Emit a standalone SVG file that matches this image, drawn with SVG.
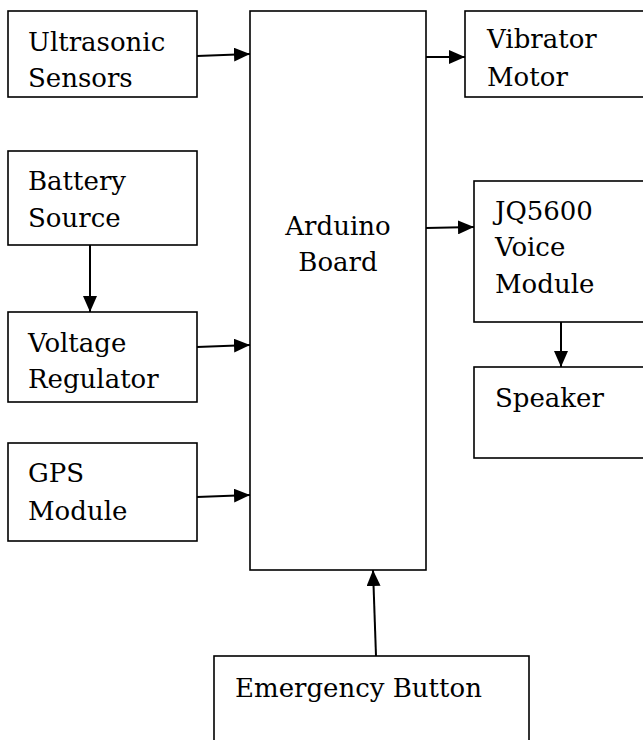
<svg xmlns="http://www.w3.org/2000/svg" width="643" height="740" viewBox="0 0 643 740">
<style>
.box{fill:#fff;stroke:#000;stroke-width:1.6}
.t{font-family:"DejaVu Serif",serif;font-size:26px;fill:#000}
.c{stroke:#000;stroke-width:2;fill:none}
</style>
<defs>
<marker id="ah" viewBox="0 0 16 14" refX="16" refY="7" markerWidth="16" markerHeight="14" markerUnits="userSpaceOnUse" orient="auto">
<path d="M0,0 L16,7 L0,14 Z" fill="#000"/>
</marker>
</defs>
<rect width="643" height="740" fill="#fff"/>
<g id="arduino"><rect class="box" x="250" y="11" width="176" height="559"/>
<text class="t" x="338" y="235" text-anchor="middle">Arduino</text>
<text class="t" x="338" y="271" text-anchor="middle">Board</text></g>
<g id="ultrasonic"><rect class="box" x="8" y="11" width="189" height="86"/>
<text class="t" x="28" y="51">Ultrasonic</text><text class="t" x="28" y="87">Sensors</text></g>
<g id="battery"><rect class="box" x="8" y="151" width="189" height="94"/>
<text class="t" x="28" y="190">Battery</text><text class="t" x="28" y="227">Source</text></g>
<g id="regulator"><rect class="box" x="8" y="312" width="189" height="90"/>
<text class="t" x="28" y="352">Voltage</text><text class="t" x="28" y="388">Regulator</text></g>
<g id="gps"><rect class="box" x="8" y="443" width="189" height="98"/>
<text class="t" x="28" y="482">GPS</text><text class="t" x="28" y="520">Module</text></g>
<g id="vibrator"><rect class="box" x="465" y="11" width="190" height="86"/>
<text class="t" x="487" y="48">Vibrator</text><text class="t" x="487" y="86">Motor</text></g>
<g id="voice"><rect class="box" x="474" y="181" width="180" height="141"/>
<text class="t" x="495" y="220">JQ5600</text><text class="t" x="495" y="256">Voice</text><text class="t" x="495" y="293">Module</text></g>
<g id="speaker"><rect class="box" x="474" y="367" width="180" height="91"/>
<text class="t" x="495" y="407">Speaker</text></g>
<g id="emergency"><rect class="box" x="214" y="656" width="315" height="100"/>
<text class="t" x="235" y="697">Emergency Button</text></g>
<g id="connectors">
<line class="c" x1="197" y1="56" x2="250" y2="54" marker-end="url(#ah)"/>
<line class="c" x1="90" y1="245" x2="90" y2="312" marker-end="url(#ah)"/>
<line class="c" x1="197" y1="347" x2="250" y2="345" marker-end="url(#ah)"/>
<line class="c" x1="197" y1="497" x2="250" y2="495" marker-end="url(#ah)"/>
<line class="c" x1="426" y1="57" x2="465" y2="57" marker-end="url(#ah)"/>
<line class="c" x1="426" y1="228" x2="474" y2="227" marker-end="url(#ah)"/>
<line class="c" x1="561" y1="322" x2="561" y2="367" marker-end="url(#ah)"/>
<line class="c" x1="376" y1="656" x2="373" y2="570" marker-end="url(#ah)"/>
</g>
</svg>
